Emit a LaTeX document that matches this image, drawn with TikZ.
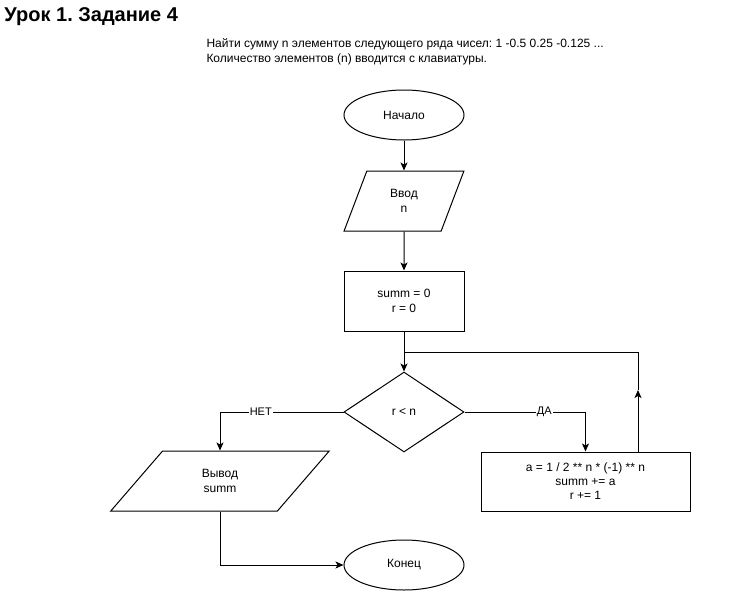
\documentclass[tikz,border=0pt]{standalone}
\usepackage{fontspec}
\setmainfont{Liberation Sans}
\usetikzlibrary{shapes.geometric,arrows.meta}
\frenchspacing
\begin{document}
\begin{tikzpicture}[x=1pt,y=-1pt,line width=1pt,
  every node/.style={font=\fontsize{12}{15}\selectfont,align=center},
  term/.style={draw,ellipse,minimum width=120pt,minimum height=50pt,inner sep=0pt},
  proc/.style={draw,rectangle,minimum width=120pt,minimum height=60pt,inner sep=0pt},
  iobox/.style={draw,trapezium,trapezium stretches=true,minimum height=60pt,inner sep=0pt},
  dec/.style={draw,diamond,minimum width=120pt,minimum height=80pt,inner sep=0pt},
  arr/.style={-{Stealth[length=8pt,width=7pt,inset=2pt]}},
  lbl/.style={fill=white,inner sep=1pt,font=\fontsize{11}{13}\selectfont}
]
\useasboundingbox (0,0) rectangle (756,592);

\node[anchor=base west,inner sep=0pt,font=\bfseries\fontsize{20}{24}\selectfont] (title) at (4,21) {Урок 1. Задание 4};
\node[anchor=west,align=left,inner sep=0pt] (desc) at (206,51.5) {Найти сумму n элементов следующего ряда чисел: 1 -0.5 0.25 -0.125 ...\\Количество элементов (n) вводится с клавиатуры.};

\node[term] (start) at (404,115) {Начало};
\node[iobox,minimum width=120pt,trapezium left angle=70,trapezium right angle=110] (inp) at (404,201) {Ввод\\n};
\node[proc] (init) at (404,301) {summ = 0\\r = 0};
\node[dec] (cond) at (404,412) {r < n};
\node[proc,minimum width=209pt,minimum height=59pt,font=\fontsize{12}{14}\selectfont] (body) at (585.5,481.5) {a = 1 / 2 ** n * (-1) ** n\\summ += a\\r += 1};
\node[iobox,minimum width=220pt,trapezium left angle=55,trapezium right angle=125] (outp) at (220,481) {Вывод\\summ};
\node[term] (end) at (404,565) {Конец};

\coordinate (join) at (404,352);
\coordinate (bodytop) at (638,452);
\coordinate (looptip) at (638,390);
\coordinate (loopcorner) at (638,352);

\draw[arr] (start) -- (inp);
\draw[arr] (inp) -- (init);
\draw[arr] (init) -- (cond);
\draw[arr] (cond.west) -| node[lbl,pos=0.335] {НЕТ} (outp.north);
\draw[arr] (cond.east) -| node[lbl,pos=0.33] {ДА} (body.north);
\draw[arr] (bodytop) -- (looptip);
\draw (looptip) -- (loopcorner) -- (join);
\draw[arr] (outp.south) |- (end.west);
\end{tikzpicture}
\end{document}
